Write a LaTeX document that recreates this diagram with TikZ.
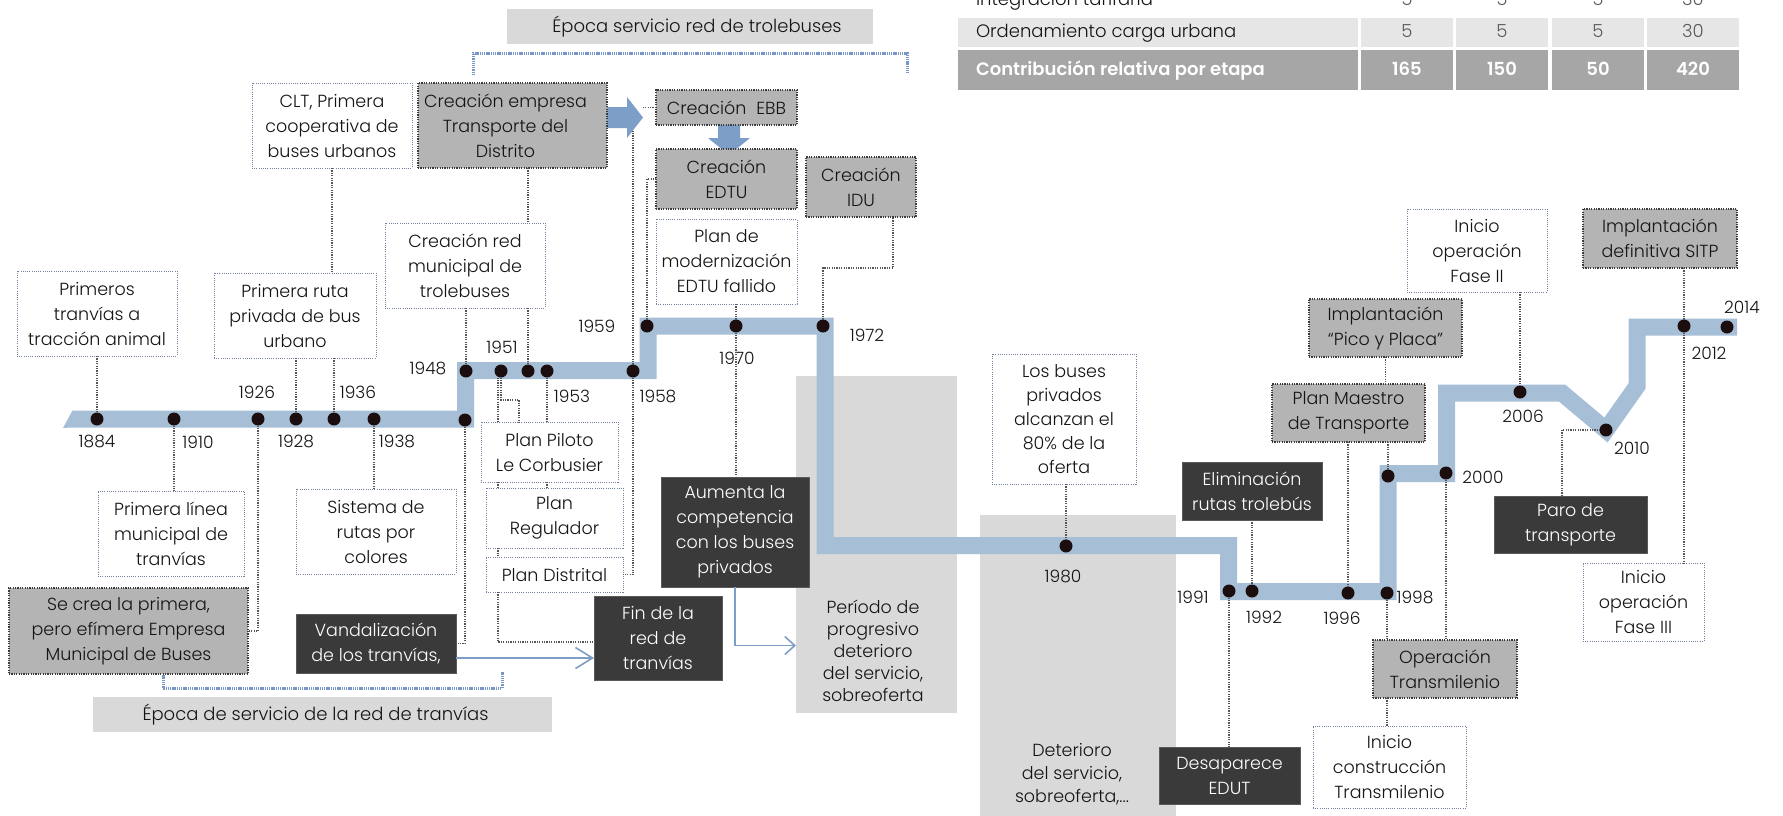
\documentclass[tikz,border=0pt]{standalone}
\usepackage{fontspec}
\setmainfont{Poppins}[UprightFont=* Light, BoldFont=* SemiBold]
\usetikzlibrary{arrows.meta,calc}
\definecolor{bandcol}{RGB}{167,191,214}
\definecolor{dotcol}{RGB}{28,14,14}
\definecolor{conncol}{RGB}{85,85,85}
\definecolor{wborder}{RGB}{115,128,160}
\definecolor{gborder}{RGB}{60,60,60}
\definecolor{gfill}{RGB}{180,180,180}
\definecolor{dfill}{RGB}{58,58,58}
\definecolor{dborder}{RGB}{90,90,90}
\definecolor{blockgray}{RGB}{217,217,217}
\definecolor{arrowcol}{RGB}{125,158,198}
\definecolor{bracketcol}{RGB}{120,150,200}
\definecolor{tabtwo}{RGB}{230,230,230}
\definecolor{tabthree}{RGB}{166,166,166}
\definecolor{tabnum}{RGB}{90,90,90}
\definecolor{txtcol}{RGB}{20,20,20}
\newcommand{\myboxfont}{\fontsize{17.5}{25}\selectfont}
\newcommand{\myyearfont}{\fontsize{17}{20}\selectfont}
\newcommand{\mytabfont}{\fontsize{18}{22}\selectfont}
\newcommand{\myepfont}{\fontsize{18}{22}\selectfont}
\tikzset{
  every node/.style={inner sep=0pt, outer sep=0pt},
  sz/.style 2 args={minimum width=#1pt, minimum height=#2pt},
  wbox/.style={draw=wborder, fill=white, line width=1pt, dash pattern=on 1pt off 1.2pt, align=center, font=\myboxfont, text=txtcol},
  gbox/.style={draw=gborder, fill=gfill, line width=1.3pt, dash pattern=on 1.2pt off 1.2pt, align=center, font=\myboxfont, text=txtcol},
  dbox/.style={draw=dborder, fill=dfill, line width=0.8pt, align=center, font=\myboxfont, text=white},
  tblock/.style={fill=blockgray},
  conn/.style={draw=conncol, line width=1.2pt, dash pattern=on 1.2pt off 1.2pt},
  tdot/.style={circle, fill=dotcol, minimum size=13pt},
  yr/.style={font=\myyearfont, text=txtcol},
  tband/.style={draw=bandcol, line width=17pt, line join=miter, line cap=butt},
  barrow/.style={draw=arrowcol, line width=1.6pt},
  bracket/.style={draw=bracketcol, line width=3pt, dash pattern=on 1.3pt off 0.9pt},
  tabtxt/.style={font=\mytabfont, text=txtcol},
}
\begin{document}
\begin{tikzpicture}[x=1pt, y=-1pt]
\useasboundingbox (0,0) rectangle (1783,815);
\fill[white] (0,0) rectangle (1783,815);

% ---------- table ----------
\fill[tabtwo] (958,18) rectangle (1358,47);
\fill[tabthree] (958,50) rectangle (1358,90);
\foreach \a/\b in {1361/1453,1456/1548,1552/1644,1647/1739}{
  \fill[tabtwo] (\a,18) rectangle (\b,47);
  \fill[tabthree] (\a,50) rectangle (\b,90);
}
\node[tabtxt, anchor=base west] (tIntegr) at (976,5) {Integraci\'on tarifaria};
\node[tabtxt, anchor=base, text=tabnum] (tIa) at (1407,5) {5};
\node[tabtxt, anchor=base, text=tabnum] (tIb) at (1502,5) {5};
\node[tabtxt, anchor=base, text=tabnum] (tIc) at (1598,5) {5};
\node[tabtxt, anchor=base, text=tabnum] (tId) at (1693,5) {30};
\node[tabtxt, anchor=base west] (tOrden) at (976,37) {Ordenamiento carga urbana};
\node[tabtxt, anchor=base, text=tabnum] (tOa) at (1407,37) {5};
\node[tabtxt, anchor=base, text=tabnum] (tOb) at (1502,37) {5};
\node[tabtxt, anchor=base, text=tabnum] (tOc) at (1598,37) {5};
\node[tabtxt, anchor=base, text=tabnum] (tOd) at (1693,37) {30};
\node[tabtxt, anchor=base west, text=white, font=\mytabfont\bfseries] (tContr) at (976,75) {Contribuci\'on relativa por etapa};
\node[tabtxt, anchor=base, text=white, font=\mytabfont\bfseries] (tCa) at (1407,75) {165};
\node[tabtxt, anchor=base, text=white, font=\mytabfont\bfseries] (tCb) at (1502,75) {150};
\node[tabtxt, anchor=base, text=white, font=\mytabfont\bfseries] (tCc) at (1598,75) {50};
\node[tabtxt, anchor=base, text=white, font=\mytabfont\bfseries] (tCd) at (1693,75) {420};

% ---------- gray blocks ----------
\node[tblock, sz={161}{337}] (bPeriodo) at (876.5,544.5) {};
\node[align=center, font=\fontsize{17.5}{22}\selectfont, text=txtcol] (tPeriodo) at (873,651) {Per\'iodo de\\progresivo\\deterioro\\del servicio,\\sobreoferta};
\node[tblock, sz={196}{310}] (bDeterioro) at (1078,670) {};
\node[align=center, font=\fontsize{17.5}{23}\selectfont, text=txtcol] (tDeterioro) at (1072,774) {Deterioro\\del servicio,\\sobreoferta,...};

% ---------- epoch labels and brackets ----------
\node[tblock, sz={459}{35}, font=\myepfont, text=txtcol] (eTranvias) at (322.5,714.5) {\hspace*{-14pt}\'Epoca de servicio de la red de tranv\'ias};
\node[tblock, sz={366}{35}, font=\myepfont, text=txtcol] (eTrole) at (690,26.5) {\hspace*{14pt}\'Epoca servicio red de trolebuses};
\draw[bracket] (473,75) -- (473,53) -- (907,53) -- (907,73);
\draw[bracket] (163,673) -- (163,688) -- (502,688) -- (502,672);

% ---------- timeline band ----------
\fill[bandcol] (63,428) -- (72.5,410.5) -- (72.5,427.5) -- cycle;
\draw[tband] (72,419) -- (465.5,419) -- (465.5,370.5) -- (648,370.5) -- (648,326) -- (825,326) -- (825,545.5) -- (1228.5,545.5) -- (1228.5,591.5) -- (1388,591.5) -- (1388,473.5) -- (1446.5,473.5) -- (1446.5,393) -- (1562,393) -- (1606,430) -- (1637,386) -- (1637,327) -- (1737,327);

% ---------- block arrows ----------
\fill[arrowcol] (606,107) -- (627,107) -- (627,97) -- (643,117.5) -- (627,138) -- (627,128) -- (606,128) -- cycle;
\fill[arrowcol] (718,125) -- (740,125) -- (740,138) -- (750,138) -- (729,155) -- (708,138) -- (718,138) -- cycle;
\coordinate (arrowfoot) at (633,131);
\coordinate (cA) at (498,0);
\coordinate (cB) at (893,0);
\coordinate (cC) at (1562,0);

% ---------- boxes ----------
\node[wbox, sz={160}{85}] (bPrimeros) at (97,313.5) {Primeros\\tranv\'ias a\\tracci\'on animal};
\node[wbox, sz={160}{85}] (bCLT) at (332,125.5) {CLT, Primera\\cooperativa de\\buses urbanos};
\node[wbox, sz={162}{85}] (bRuta) at (295,315.5) {Primera ruta\\privada de bus\\urbano};
\node[wbox, sz={160}{85}] (bRed) at (465,265.5) {Creaci\'on red\\municipal de\\trolebuses};
\node[gbox, sz={189}{85}] (bEmpresa) at (512.5,125.5) {\hspace*{-14pt}Creaci\'on empresa\\\hspace*{-14pt}Transporte del\\\hspace*{-14pt}Distrito};
\node[gbox, sz={141}{35}] (bEBB) at (726.5,107.5) {Creaci\'on\hspace{10pt}EBB};
\node[gbox, sz={141}{60}] (bEDTU) at (726.5,179) {Creaci\'on\\EDTU};
\node[gbox, sz={110}{60}] (bIDU) at (861,187) {Creaci\'on\\IDU};
\node[wbox, sz={141}{85}] (bPlanMod) at (726.5,261.5) {Plan de\\modernizaci\'on\\EDTU fallido};
\node[wbox, sz={137}{60}] (bPiloto) at (549.5,452) {Plan Piloto\\Le Corbusier};
\node[wbox, sz={137}{60}] (bRegulador) at (554.5,518) {Plan\\Regulador};
\node[wbox, sz={137}{35}] (bDistrital) at (554.5,574.5) {Plan Distrital};
\node[dbox, sz={148}{110}] (bAumenta) at (735,532) {Aumenta la\\competencia\\con los buses\\privados};
\node[dbox, sz={128}{84}] (bFin) at (658,638) {Fin de la\\red de\\tranv\'ias};
\node[dbox, sz={160}{59}] (bVandal) at (376,643.5) {Vandalizaci\'on\\de los tranv\'ias,};
\node[gbox, sz={239}{86}] (bSeCrea) at (128.5,631) {Se crea la primera,\\pero ef\'imera Empresa\\Municipal de Buses};
\node[wbox, sz={146}{85}] (bPrimeraLinea) at (171,533.5) {Primera l\'inea\\municipal de\\tranv\'ias};
\node[wbox, sz={160}{85}] (bSistema) at (376,531.5) {Sistema de\\rutas por\\colores};
\node[wbox, sz={144}{130}, font=\fontsize{17.5}{24}\selectfont] (bBuses) at (1064,419) {Los buses\\privados\\alcanzan el\\80\% de la\\oferta};
\node[dbox, sz={140}{58}] (bElim) at (1252,491) {Eliminaci\'on\\rutas troleb\'us};
\node[dbox, sz={141}{57}] (bDesap) at (1229.5,775.5) {Desaparece\\EDUT};
\node[gbox, sz={153}{58}] (bPico) at (1385.5,328) {Implantaci\'on\\``Pico y Placa''};
\node[gbox, sz={153}{58}] (bMaestro) at (1348.5,413) {Plan Maestro\\de Transporte};
\node[wbox, sz={140}{83}] (bFaseII) at (1477,250.5) {Inicio\\operaci\'on\\Fase II};
\node[gbox, sz={154}{59}] (bSITP) at (1660,238.5) {Implantaci\'on\\definitiva SITP};
\node[dbox, sz={153}{57}] (bParo) at (1570.5,524.5) {Paro de\\transporte};
\node[wbox, sz={121}{78}] (bFaseIII) at (1643.5,602) {Inicio\\operaci\'on\\Fase III};
\node[gbox, sz={144}{58}] (bOperacion) at (1445,669) {Operaci\'on\\Transmilenio};
\node[wbox, sz={153}{82}] (bConstr) at (1389.5,767) {Inicio\\construcci\'on\\Transmilenio};

% ---------- dots ----------
\node[tdot] (d1884) at (97,419) {};
\node[tdot] (d1910) at (174,419) {};
\node[tdot] (d1926) at (258,419) {};
\node[tdot] (d1928) at (296,419) {};
\node[tdot] (d1936) at (334,419) {};
\node[tdot] (d1938) at (374,419) {};
\node[tdot] (d1948a) at (465,420) {};
\node[tdot] (d1948b) at (466,371) {};
\node[tdot] (d1951) at (501,371) {};
\node[tdot] (d1952) at (528,371) {};
\node[tdot] (d1953) at (547,371) {};
\node[tdot] (d1958) at (633,371) {};
\node[tdot] (d1959) at (647,326) {};
\node[tdot] (d1970) at (736,326) {};
\node[tdot] (d1972) at (823,326) {};
\node[tdot] (d1980) at (1066,546) {};
\node[tdot] (d1991) at (1229,591) {};
\node[tdot] (d1992) at (1252,591) {};
\node[tdot] (d1996) at (1348,593) {};
\node[tdot] (d1998a) at (1387,593) {};
\node[tdot] (d1998b) at (1388,476) {};
\node[tdot] (d2000) at (1446,473) {};
\node[tdot] (d2006) at (1520,392) {};
\node[tdot] (d2010) at (1606,430) {};
\node[tdot] (d2012) at (1684,326) {};
\node[tdot] (d2014) at (1727,327) {};

% ---------- year labels ----------
\node[yr] (y1884) at (97,441) {1884};
\node[yr] (y1910) at (198,442) {1910};
\node[yr] (y1926) at (257,392) {1926};
\node[yr] (y1928) at (296,441) {1928};
\node[yr] (y1936) at (358,392) {1936};
\node[yr] (y1938) at (397,441) {1938};
\node[yr] (y1948) at (428,368) {1948};
\node[yr] (y1951) at (502,347) {1951};
\node[yr] (y1953) at (572,396) {1953};
\node[yr] (y1958) at (658,396) {1958};
\node[yr] (y1959) at (597,326) {1959};
\node[yr] (y1970) at (737,358) {1970};
\node[yr] (y1972) at (867,335) {1972};
\node[yr] (y1980) at (1063,576) {1980};
\node[yr] (y1991) at (1193,597) {1991};
\node[yr] (y1992) at (1264,617) {1992};
\node[yr] (y1996) at (1342,618) {1996};
\node[yr] (y1998) at (1415,597) {1998};
\node[yr] (y2000) at (1483,477) {2000};
\node[yr] (y2006) at (1523,416) {2006};
\node[yr] (y2010) at (1632,448) {2010};
\node[yr] (y2012) at (1709,353) {2012};
\node[yr] (y2014) at (1742,307) {2014};

% ---------- dotted connectors ----------
\draw[conn] (bPrimeros.south -| d1884) -- (d1884);
\draw[conn] (d1910) -- (d1910 |- bPrimeraLinea.north);
\draw[conn] (d1926) |- (bSeCrea.east);
\draw[conn] (bRuta.south -| d1928) -- (d1928);
\draw[conn] (bRuta.south -| d1936) -- (d1936);
\draw[conn] (bCLT.south) -- (bCLT.south |- bRuta.north);
\draw[conn] (d1938) -- (d1938 |- bSistema.north);
\draw[conn] (d1948a) |- (bVandal.east);
\draw[conn] (bRed.south -| d1948b) -- (d1948b);
\draw[conn] (bEmpresa.south -| d1952) -- (bRed.north -| d1952);
\draw[conn] (bRed.south -| d1952) -- (d1952);
\draw[conn] (d1953) -- (d1953 |- bPiloto.north);
\draw[conn] ([xshift=-3pt]d1951.south) -- ([xshift=-3pt]d1951.south |- bPiloto.north);
\draw[conn] (d1951) -- ++(0,29) -| ($(bPiloto.north west)+(38,0)$);
\draw[conn] (bPiloto.south -| cA) -- (bRegulador.north -| cA);
\draw[conn] (bPiloto.south -| d1953) -- (bRegulador.north -| d1953);
\draw[conn] (bRegulador.south -| cA) -- (bDistrital.north -| cA);
\draw[conn] (bDistrital.south -| cA) |- ([yshift=-4pt]bFin.west);
\draw[conn] (d1958) |- (bDistrital.east);
\draw[conn] (d1958) -- (arrowfoot);
\draw[conn] (bEBB.west) -- ++(-14,0);
\draw[conn] (d1959) |- (bEDTU.west);
\draw[conn] (d1970) -- (d1970 |- bPlanMod.south);
\draw[conn] (d1970) -- (d1970 |- bAumenta.north);
\draw[conn] (d1972) -- ++(0,-58) -| (bIDU.south -| cB);
\draw[conn] (bBuses.south -| d1980) -- (d1980);
\draw[conn] (bElim.south) -- (d1992);
\draw[conn] (d1991) -- (d1991 |- bDesap.north);
\draw[conn] (bPico.south) -- (bPico.south |- bMaestro.north);
\draw[conn] (bMaestro.south -| d1998b) -- (d1998b);
\draw[conn] (bMaestro.south -| d1996) -- (d1996);
\draw[conn] (d1998a) -- (d1998a |- bOperacion.north);
\draw[conn] (d2000) -- (d2000 |- bOperacion.north);
\draw[conn] (bOperacion.south -| d1998a) -- (bConstr.north -| d1998a);
\draw[conn] (bFaseII.south -| d2006) -- (d2006);
\draw[conn] (bSITP.south -| d2012) -- (d2012);
\draw[conn] (d2012) -- (d2012 |- bFaseIII.north);
\draw[conn] (bParo.north -| cC) |- (d2010);

% ---------- thin blue arrows ----------
\draw[barrow, -{Straight Barb[length=17pt,width=21pt,line width=1.6pt]}] ([yshift=-14.5pt]bVandal.east) -- ([yshift=-14.5pt]bVandal.east -| bFin.west);
\draw[barrow, -{Straight Barb[length=10pt,width=18pt,line width=1.6pt]}] (bAumenta.south) |- ([yshift=-101pt]bPeriodo.west);
\end{tikzpicture}
\end{document}
